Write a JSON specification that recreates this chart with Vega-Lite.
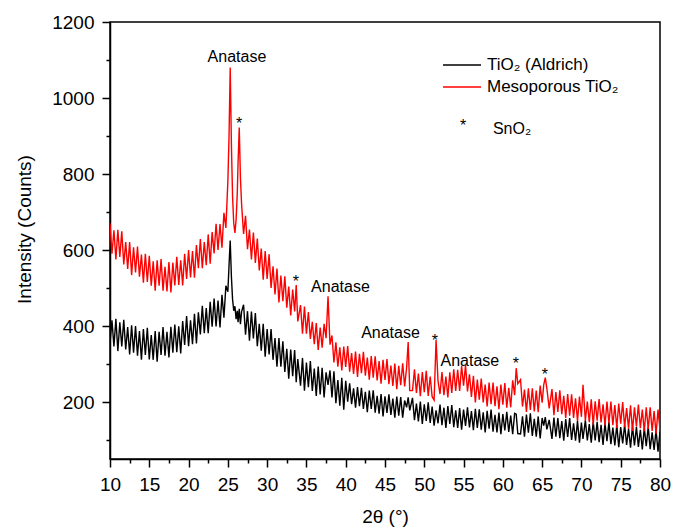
{
"$schema":"https://vega.github.io/schema/vega-lite/v6.json",
"width":550,"height":437,
"autosize":{"type":"none"},
"padding":{"left":110,"top":22,"right":13,"bottom":69},
"background":"white",
"config":{"font":"Liberation Sans","view":{"stroke":"black","strokeWidth":1.5}},
"datasets":{
"xrd":[
{"x":10,"m":670,"a":354},{"x":10.25,"m":590,"a":415},{"x":10.5,"m":652,"a":346},{"x":10.75,"m":575,"a":419},{"x":11,"m":653,"a":334},{"x":11.25,"m":582,"a":410},{"x":11.5,"m":649,"a":346},{"x":11.75,"m":562,"a":416},{"x":12,"m":621,"a":338},{"x":12.25,"m":550,"a":397},{"x":12.5,"m":621,"a":325},{"x":12.75,"m":534,"a":402},{"x":13,"m":607,"a":330},{"x":13.25,"m":541,"a":400},{"x":13.5,"m":609,"a":322},{"x":13.75,"m":530,"a":387},{"x":14,"m":588,"a":311},{"x":14.25,"m":514,"a":392},{"x":14.5,"m":590,"a":324},{"x":14.75,"m":516,"a":395},
{"x":15,"m":585,"a":312},{"x":15.25,"m":506,"a":376},{"x":15.5,"m":570,"a":311},{"x":15.75,"m":493,"a":387},{"x":16,"m":573,"a":306},{"x":16.25,"m":506,"a":385},{"x":16.5,"m":576,"a":324},{"x":16.75,"m":493,"a":397},{"x":17,"m":556,"a":322},{"x":17.25,"m":491,"a":385},{"x":17.5,"m":568,"a":317},{"x":17.75,"m":488,"a":398},{"x":18,"m":567,"a":330},{"x":18.25,"m":507,"a":404},{"x":18.5,"m":582,"a":331},{"x":18.75,"m":508,"a":399},{"x":19,"m":573,"a":328},{"x":19.25,"m":507,"a":413},{"x":19.5,"m":590,"a":350},{"x":19.75,"m":524,"a":426},
{"x":20,"m":600,"a":347},{"x":20.25,"m":528,"a":415},{"x":20.5,"m":597,"a":352},{"x":20.75,"m":527,"a":432},{"x":21,"m":613,"a":354},{"x":21.25,"m":552,"a":436},{"x":21.5,"m":629,"a":378},{"x":21.75,"m":552,"a":453},{"x":22,"m":621,"a":381},{"x":22.25,"m":560,"a":447},{"x":22.5,"m":641,"a":381},{"x":22.75,"m":564,"a":464},{"x":23,"m":647,"a":398},{"x":23.25,"m":591,"a":472},{"x":23.5,"m":669,"a":399},{"x":23.75,"m":600,"a":467},{"x":24,"m":668,"a":396},{"x":24.25,"m":606,"a":482},{"x":24.5,"m":698,"a":422},{"x":24.75,"m":658,"a":506},
{"x":25,"m":780,"a":490},{"x":25.15,"m":900,"a":560},{"x":25.3,"m":1080,"a":625},{"x":25.45,"m":880,"a":530},{"x":25.6,"m":740,"a":470},{"x":25.75,"m":670,"a":440},{"x":25.9,"m":645,"a":452},{"x":26.05,"m":680,"a":418},{"x":26.2,"m":750,"a":440},{"x":26.3,"m":830,"a":410},{"x":26.45,"m":922,"a":445},{"x":26.6,"m":790,"a":405},{"x":26.75,"m":720,"a":438},
{"x":27,"m":642,"a":456},{"x":27.25,"m":690,"a":377},{"x":27.5,"m":602,"a":439},{"x":27.75,"m":654,"a":361},{"x":28,"m":575,"a":438},{"x":28.25,"m":646,"a":367},{"x":28.5,"m":566,"a":434},{"x":28.75,"m":630,"a":347},{"x":29,"m":546,"a":406},{"x":29.25,"m":604,"a":335},{"x":29.5,"m":522,"a":406},{"x":29.75,"m":597,"a":319},{"x":30,"m":524,"a":392},{"x":30.25,"m":589,"a":325},{"x":30.5,"m":500,"a":392},{"x":30.75,"m":557,"a":311},{"x":31,"m":483,"a":368},{"x":31.25,"m":551,"a":293},{"x":31.5,"m":462,"a":368},{"x":31.75,"m":533,"a":293},
{"x":32,"m":465,"a":360},{"x":32.25,"m":531,"a":279},{"x":32.5,"m":448,"a":340},{"x":32.75,"m":504,"a":261},{"x":33,"m":428,"a":338},{"x":33.25,"m":496,"a":268},{"x":33.5,"m":438,"a":337},{"x":33.7,"m":508,"a":252},{"x":33.9,"m":412,"a":313},{"x":34.25,"m":455,"a":243},{"x":34.5,"m":380,"a":316},{"x":34.75,"m":451,"a":230},{"x":35,"m":380,"a":304},{"x":35.25,"m":437,"a":239},{"x":35.5,"m":366,"a":308},{"x":35.75,"m":411,"a":229},{"x":36,"m":352,"a":288},{"x":36.25,"m":408,"a":216},{"x":36.5,"m":337,"a":293},{"x":36.75,"m":396,"a":220},
{"x":37,"m":343,"a":290},{"x":37.25,"m":406,"a":212},{"x":37.5,"m":368,"a":278},{"x":37.75,"m":478,"a":245},{"x":38,"m":351,"a":283},{"x":38.25,"m":375,"a":212},{"x":38.5,"m":304,"a":281},{"x":38.75,"m":357,"a":197},{"x":39,"m":293,"a":258},{"x":39.25,"m":344,"a":190},{"x":39.5,"m":283,"a":264},{"x":39.75,"m":346,"a":180},{"x":40,"m":292,"a":256},{"x":40.25,"m":347,"a":201},{"x":40.5,"m":280,"a":249},{"x":40.75,"m":329,"a":194},{"x":41,"m":274,"a":236},{"x":41.25,"m":333,"a":185},{"x":41.5,"m":266,"a":239},{"x":41.75,"m":327,"a":189},
{"x":42,"m":276,"a":237},{"x":42.25,"m":332,"a":182},{"x":42.5,"m":269,"a":227},{"x":42.75,"m":317,"a":173},{"x":43,"m":259,"a":230},{"x":43.25,"m":321,"a":182},{"x":43.5,"m":264,"a":231},{"x":43.75,"m":320,"a":172},{"x":44,"m":257,"a":216},{"x":44.25,"m":308,"a":169},{"x":44.5,"m":248,"a":221},{"x":44.75,"m":311,"a":162},{"x":45,"m":258,"a":215},{"x":45.25,"m":313,"a":171},{"x":45.5,"m":247,"a":220},{"x":45.75,"m":296,"a":166},{"x":46,"m":242,"a":209},{"x":46.25,"m":301,"a":159},{"x":46.5,"m":234,"a":214},{"x":46.75,"m":295,"a":164},
{"x":47,"m":244,"a":213},{"x":47.25,"m":302,"a":159},{"x":47.5,"m":241,"a":204},{"x":47.75,"m":290,"a":186},{"x":47.95,"m":358,"a":212},{"x":48.15,"m":230,"a":178},{"x":48.5,"m":230,"a":211},{"x":48.75,"m":286,"a":152},{"x":49,"m":224,"a":196},{"x":49.25,"m":275,"a":149},{"x":49.5,"m":215,"a":201},{"x":49.75,"m":279,"a":142},{"x":50,"m":226,"a":194},{"x":50.25,"m":282,"a":150},{"x":50.5,"m":216,"a":199},{"x":50.75,"m":267,"a":145},{"x":51,"m":214,"a":188},{"x":51.25,"m":205,"a":138},{"x":51.5,"m":363,"a":178},{"x":51.75,"m":255,"a":144},
{"x":52,"m":221,"a":193},{"x":52.25,"m":279,"a":139},{"x":52.5,"m":218,"a":185},{"x":52.75,"m":267,"a":132},{"x":53,"m":212,"a":189},{"x":53.25,"m":278,"a":142},{"x":53.5,"m":224,"a":192},{"x":53.75,"m":286,"a":134},{"x":54,"m":229,"a":178},{"x":54.25,"m":285,"a":132},{"x":54.5,"m":229,"a":184},{"x":54.75,"m":295,"a":127},{"x":55,"m":243,"a":180},{"x":55.25,"m":297,"a":137},{"x":55.5,"m":228,"a":186},{"x":55.75,"m":273,"a":133},{"x":56,"m":213,"a":176},{"x":56.25,"m":269,"a":126},{"x":56.5,"m":199,"a":182},{"x":56.75,"m":259,"a":132},
{"x":57,"m":206,"a":181},{"x":57.25,"m":262,"a":127},{"x":57.5,"m":199,"a":173},{"x":57.75,"m":246,"a":120},{"x":58,"m":188,"a":177},{"x":58.25,"m":251,"a":130},{"x":58.5,"m":194,"a":180},{"x":58.75,"m":251,"a":122},{"x":59,"m":189,"a":166},{"x":59.25,"m":241,"a":120},{"x":59.5,"m":181,"a":172},{"x":59.75,"m":246,"a":115},{"x":60,"m":193,"a":168},{"x":60.25,"m":250,"a":125},{"x":60.5,"m":185,"a":174},{"x":60.75,"m":237,"a":121},{"x":61,"m":186,"a":164},{"x":61.25,"m":257,"a":115},{"x":61.5,"m":218,"a":170},{"x":61.7,"m":289,"a":168},
{"x":61.9,"m":248,"a":117},{"x":62.25,"m":259,"a":116},{"x":62.5,"m":188,"a":162},{"x":62.75,"m":233,"a":109},{"x":63,"m":174,"a":167},{"x":63.25,"m":236,"a":119},{"x":63.5,"m":179,"a":170},{"x":63.75,"m":236,"a":111},{"x":64,"m":175,"a":156},{"x":64.25,"m":230,"a":109},{"x":64.5,"m":173,"a":162},{"x":64.75,"m":243,"a":104},{"x":65,"m":198,"a":158},{"x":65.2,"m":245,"a":138},{"x":65.4,"m":264,"a":160},{"x":65.6,"m":236,"a":128},{"x":65.9,"m":183,"a":153},{"x":66.25,"m":234,"a":103},{"x":66.5,"m":165,"a":159},{"x":66.75,"m":226,"a":109},
{"x":67,"m":174,"a":158},{"x":67.25,"m":231,"a":105},{"x":67.5,"m":168,"a":150},{"x":67.75,"m":216,"a":98},{"x":68,"m":158,"a":155},{"x":68.25,"m":221,"a":108},{"x":68.5,"m":164,"a":158},{"x":68.75,"m":220,"a":100},{"x":69,"m":158,"a":144},{"x":69.25,"m":210,"a":98},{"x":69.5,"m":150,"a":150},{"x":69.75,"m":214,"a":93},{"x":70,"m":161,"a":146},{"x":70.2,"m":245,"a":103},{"x":70.5,"m":151,"a":152},{"x":70.75,"m":201,"a":99},{"x":71,"m":147,"a":142},{"x":71.25,"m":207,"a":93},{"x":71.5,"m":140,"a":148},{"x":71.75,"m":202,"a":99},
{"x":72,"m":151,"a":148},{"x":72.25,"m":208,"a":94},{"x":72.5,"m":146,"a":140},{"x":72.75,"m":194,"a":87},{"x":73,"m":138,"a":144},{"x":73.25,"m":201,"a":97},{"x":73.5,"m":144,"a":147},{"x":73.75,"m":201,"a":89},{"x":74,"m":139,"a":133},{"x":74.25,"m":192,"a":86},{"x":74.5,"m":132,"a":139},{"x":74.75,"m":196,"a":81},{"x":75,"m":143,"a":134},{"x":75.25,"m":200,"a":91},{"x":75.5,"m":134,"a":140},{"x":75.75,"m":184,"a":87},{"x":76,"m":130,"a":130},{"x":76.25,"m":191,"a":80},{"x":76.5,"m":124,"a":136},{"x":76.75,"m":186,"a":86},
{"x":77,"m":136,"a":135},{"x":77.25,"m":193,"a":82},{"x":77.5,"m":131,"a":127},{"x":77.75,"m":180,"a":75},{"x":78,"m":123,"a":132},{"x":78.25,"m":186,"a":84},{"x":78.5,"m":129,"a":135},{"x":78.75,"m":186,"a":76},{"x":79,"m":124,"a":120},{"x":79.25,"m":176,"a":74},{"x":79.5,"m":116,"a":126},{"x":79.75,"m":180,"a":69},{"x":80,"m":126,"a":122}
],
"notes":[
{"x":26.16,"y":1095,"t":"Anatase"},
{"x":26.42,"y":918,"t":"*"},
{"x":33.67,"y":503,"t":"*"},
{"x":39.33,"y":490,"t":"Anatase"},
{"x":45.7,"y":368,"t":"Anatase"},
{"x":51.36,"y":347,"t":"*"},
{"x":55.8,"y":295,"t":"Anatase"},
{"x":61.67,"y":287,"t":"*"},
{"x":65.36,"y":258,"t":"*"},
{"x":54.93,"y":913,"t":"*"},
{"x":61.17,"y":905,"t":"SnO₂"}
]
},
"resolve":{"axis":{"x":"independent","y":"independent"}},
"layer":[
{
"data":{"name":"xrd"},
"transform":[{"fold":["a","m"],"as":["s","v"]}],
"mark":{"type":"line","strokeWidth":1.4,"clip":true},
"encoding":{
"x":{"field":"x","type":"quantitative","scale":{"domain":[10,80],"nice":false,"zero":false},
"axis":{"orient":"bottom","values":[10,15,20,25,30,35,40,45,50,55,60,65,70,75,80],"tickSize":8,"format":"d",
"grid":false,"domainColor":"black","domainWidth":1.5,"tickColor":"black","tickWidth":1.5,
"labelFontSize":19,"labelColor":"black","labelBaseline":"alphabetic","labelPadding":23,"labelFlush":false,"labelOverlap":false,"labelBound":false,
"title":"2θ (°)","titleFontSize":19,"titleFontWeight":"normal","titleColor":"black","titleBaseline":"alphabetic","titleY":63}},
"y":{"field":"v","type":"quantitative","scale":{"domain":[50,1200],"nice":false,"zero":false},
"axis":{"orient":"left","values":[200,400,600,800,1000,1200],"tickSize":8,"format":"d",
"grid":false,"domainColor":"black","domainWidth":1.5,"tickColor":"black","tickWidth":1.5,
"labelFontSize":19,"labelColor":"black","labelPadding":8,"labelFlush":false,"labelOverlap":false,"labelBound":false,
"title":"Intensity (Counts)","titleFontSize":19,"titleFontWeight":"normal","titleColor":"black","titleBaseline":"alphabetic","titleX":-80,"titleY":207}},
"color":{"field":"s","type":"nominal","scale":{"domain":["a","m"],"range":["#000000","#ff0000"]},
"legend":{"orient":"none","legendX":338,"legendY":29,"title":null,"padding":0,
"labelExpr":"datum.value == 'a' ? 'TiO₂ (Aldrich)' : 'Mesoporous TiO₂'",
"symbolType":"M-1.46,0H1.46","symbolSize":676,"symbolStrokeWidth":1.5,"symbolFillColor":"transparent",
"labelFontSize":17,"labelColor":"black","labelOffset":11,"rowPadding":0}}
}
},
{
"data":{"name":"notes"},
"mark":{"type":"text","fontSize":16,"baseline":"alphabetic","align":"center","color":"black"},
"encoding":{
"x":{"field":"x","type":"quantitative",
"axis":{"orient":"bottom","values":[12.5,17.5,22.5,27.5,32.5,37.5,42.5,47.5,52.5,57.5,62.5,67.5,72.5,77.5],"tickSize":4,"tickColor":"black","tickWidth":1.5,"labels":false,"domain":false,"grid":false,"title":null}},
"y":{"field":"y","type":"quantitative",
"axis":{"orient":"left","values":[100,300,500,700,900,1100],"tickSize":4,"tickColor":"black","tickWidth":1.5,"labels":false,"domain":false,"grid":false,"title":null}},
"text":{"field":"t"}
}
}
]
}
